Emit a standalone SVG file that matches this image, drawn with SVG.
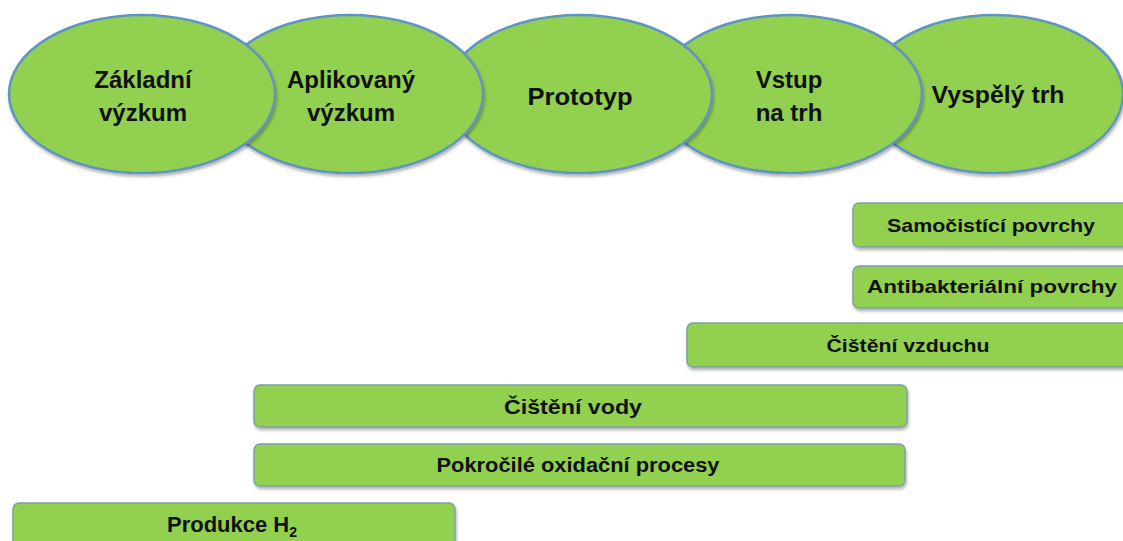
<svg xmlns="http://www.w3.org/2000/svg" width="1123" height="541" viewBox="0 0 1123 541">
<defs>
<filter id="sh" x="-10%" y="-10%" width="120%" height="130%">
<feDropShadow dx="1" dy="2.5" stdDeviation="1.5" flood-color="#000" flood-opacity="0.3"/>
</filter>
<style>
.ell{fill:#92D050;stroke:#5E94C4;stroke-width:2.5;filter:url(#sh)}
.bar{fill:#92D050;stroke:#7D9EA8;stroke-width:1.5;filter:url(#sh)}
.t{font-family:"Liberation Sans",Arial,sans-serif;font-weight:bold;fill:#111;text-anchor:middle}
.big{font-size:24px}
.sm{font-size:19px}
.md{font-size:21px}
</style>
</defs>
<rect width="1123" height="541" fill="#fff"/>
<g id="stages">
<g id="n5"><ellipse class="ell" cx="994" cy="94" rx="129" ry="79"/><text class="t big" x="998" y="103" textLength="133" lengthAdjust="spacingAndGlyphs">Vyspělý trh</text></g>
<g id="n4"><ellipse class="ell" cx="789" cy="94" rx="133" ry="79"/><text class="t big" x="789" y="88">Vstup</text><text class="t big" x="789" y="121">na trh</text></g>
<g id="n3"><ellipse class="ell" cx="579" cy="94" rx="133" ry="79"/><text class="t big" x="580" y="105" textLength="105" lengthAdjust="spacingAndGlyphs">Prototyp</text></g>
<g id="n2"><ellipse class="ell" cx="350" cy="94" rx="133" ry="79"/><text class="t big" x="351" y="88">Aplikovaný</text><text class="t big" x="351" y="121">výzkum</text></g>
<g id="n1"><ellipse class="ell" cx="142" cy="94" rx="133" ry="79"/><text class="t big" x="143" y="88">Základní</text><text class="t big" x="143" y="121">výzkum</text></g>
</g>
<g id="bars">
<g id="b1"><rect class="bar" x="853" y="203" width="280" height="44" rx="6"/><text class="t sm" x="991" y="232" textLength="208" lengthAdjust="spacingAndGlyphs">Samočistící povrchy</text></g>
<g id="b2"><rect class="bar" x="853" y="266" width="280" height="42" rx="6"/><text class="t sm" x="992" y="293" textLength="250" lengthAdjust="spacingAndGlyphs">Antibakteriální povrchy</text></g>
<g id="b3"><rect class="bar" x="687" y="323" width="446" height="44" rx="6"/><text class="t sm" x="908" y="352" textLength="163" lengthAdjust="spacingAndGlyphs">Čištění vzduchu</text></g>
<g id="b4"><rect class="bar" x="254" y="385" width="653" height="42" rx="6"/><text class="t md" x="573" y="414" textLength="138" lengthAdjust="spacingAndGlyphs">Čištění vody</text></g>
<g id="b5"><rect class="bar" x="254" y="444" width="651" height="42" rx="6"/><text class="t md" x="578" y="472" textLength="283" lengthAdjust="spacingAndGlyphs">Pokročilé oxidační procesy</text></g>
<g id="b6"><rect class="bar" x="13" y="503" width="442" height="48" rx="6"/><text class="t" x="232" y="532" font-size="22">Produkce H<tspan font-size="14" dy="5">2</tspan></text></g>
</g>
<g id="connectors"/>
</svg>
